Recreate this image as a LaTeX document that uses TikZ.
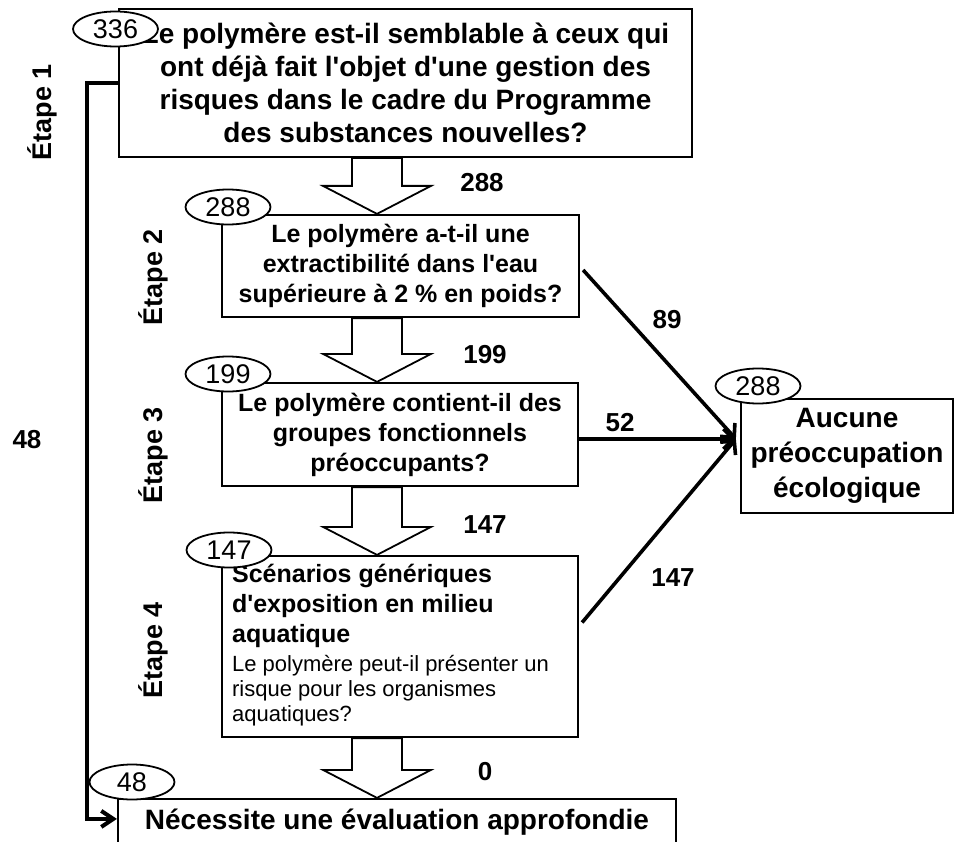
\documentclass[tikz,border=0pt]{standalone}
\usepackage{fontspec}
\setmainfont{Liberation Sans}
\usetikzlibrary{arrows.meta,calc,shapes.geometric}
\newcommand{\aq}{\textquotesingle}
\begin{document}
\begin{tikzpicture}[x=1pt,y=-1pt,
  box/.style={draw,line width=2.2pt,fill=white,inner sep=0pt,align=center},
  count/.style={draw,ellipse,line width=1.8pt,fill=white,minimum width=85pt,minimum height=35pt,inner sep=0pt,font=\fontsize{27}{27}\selectfont},
  lab/.style={font=\bfseries\fontsize{26}{26}\selectfont,inner sep=0pt},
  etape/.style={rotate=90,font=\bfseries\fontsize{27}{27}\selectfont,inner sep=0pt},
  barrow/.style={draw,line width=1.8pt,fill=white,line join=miter},
  conn/.style={line width=3.6pt},
  tipb/.style={-{Straight Barb[length=10pt,width=20pt]}}
]
\clip (0,0) rectangle (955,842);
\fill[white] (0,0) rectangle (955,842);

% boxes
\node[box,minimum width=573pt,minimum height=148pt,font=\bfseries\fontsize{28}{33}\selectfont] (b1) at (405.5,83)
  {Le polymère est-il semblable à ceux qui\\ ont déjà fait l\aq objet d\aq une gestion des\\ risques dans le cadre du Programme\\ des substances nouvelles?};
\node[box,minimum width=357pt,minimum height=102pt,font=\bfseries\fontsize{25}{30}\selectfont] (b2) at (400.5,266)
  {Le polymère a-t-il une\\ extractibilité dans l\aq eau\\ supérieure à 2 \% en poids?};
\node[box,minimum width=356pt,minimum height=103pt,font=\bfseries\fontsize{25}{30}\selectfont] (b3) at (400,434.5)
  {Le polymère contient-il des\\ groupes fonctionnels\\ préoccupants?};
\node[box,minimum width=356pt,minimum height=181pt] (b4) at (400,646.5) {};
\node[inner sep=0pt,align=left,anchor=west,font=\bfseries\fontsize{25}{30}\selectfont] (t4a) at ($(b4.north west)+(11,51)$)
  {Scénarios génériques\\ d\aq exposition en milieu\\ aquatique};
\node[inner sep=0pt,align=left,anchor=west,font=\fontsize{22}{25}\selectfont] (t4b) at ($(b4.north west)+(11,136)$)
  {Le polymère peut-il présenter un\\ risque pour les organismes\\ aquatiques?};
\node[box,minimum width=558pt,minimum height=46pt,font=\bfseries\fontsize{28}{33}\selectfont] (b5) at (397,822)
  {Nécessite une évaluation approfondie};
\node[box,minimum width=212pt,minimum height=114pt,font=\bfseries\fontsize{28}{35}\selectfont] (b6) at (847,456)
  {Aucune\\ préoccupation\\ écologique};

% block arrows
\coordinate (ax) at (377,0);
\foreach \u/\l in {b1/b2,b2/b3,b3/b4,b4/b5}{
  \draw[barrow] ($(\u.south -| ax)+(-25,0)$) -- ($(\l.north -| ax)+(-25,-28)$) -- ($(\l.north -| ax)+(-54,-28)$)
    -- (\l.north -| ax) -- ($(\l.north -| ax)+(54,-28)$) -- ($(\l.north -| ax)+(25,-28)$) -- ($(\u.south -| ax)+(25,0)$) -- cycle;
}

% connectors to "Aucune"
\coordinate (hub) at ($(b6.west)+(-4,-17)$);
\draw[conn,tipb] ($(b2.east)+(3,4)$) -- (hub);
\draw[conn,tipb] (b3.east |- hub) -- (hub);
\draw[conn,tipb] ($(b4.east)+(3,-24)$) -- (hub);

% left connector
\coordinate (lx) at (87,0);
\coordinate (b5in) at ($(b5.north west)+(0,21)$);
\draw[conn,line width=4pt,-{Straight Barb[length=12pt,width=16pt]}] (b1.west) -- (b1.west -| lx) |- (b5in);

% counts
\node[count] (e1) at (115.5,29) {336};
\node[count] (e2) at (228,207) {288};
\node[count] (e3) at (228,374) {199};
\node[count] (e4) at (229,550) {147};
\node[count] (e5) at (132,782) {48};
\node[count] (e6) at (758,386) {288};

% labels
\node[lab] (l288) at (482,183) {288};
\node[lab] (l199) at (485,355) {199};
\node[lab] (l147) at (485,525) {147};
\node[lab] (l0) at (485,772) {0};
\node[lab] (l89) at (667,320) {89};
\node[lab] (l52) at (620,423) {52};
\node[lab] (l147b) at (673,578) {147};
\node[lab] (l48) at (27,440) {48};

% steps
\node[etape] (s1) at (42,112) {Étape 1};
\node[etape] (s2) at (153,277) {Étape 2};
\node[etape] (s3) at (153,455) {Étape 3};
\node[etape] (s4) at (153,650) {Étape 4};
\end{tikzpicture}
\end{document}
